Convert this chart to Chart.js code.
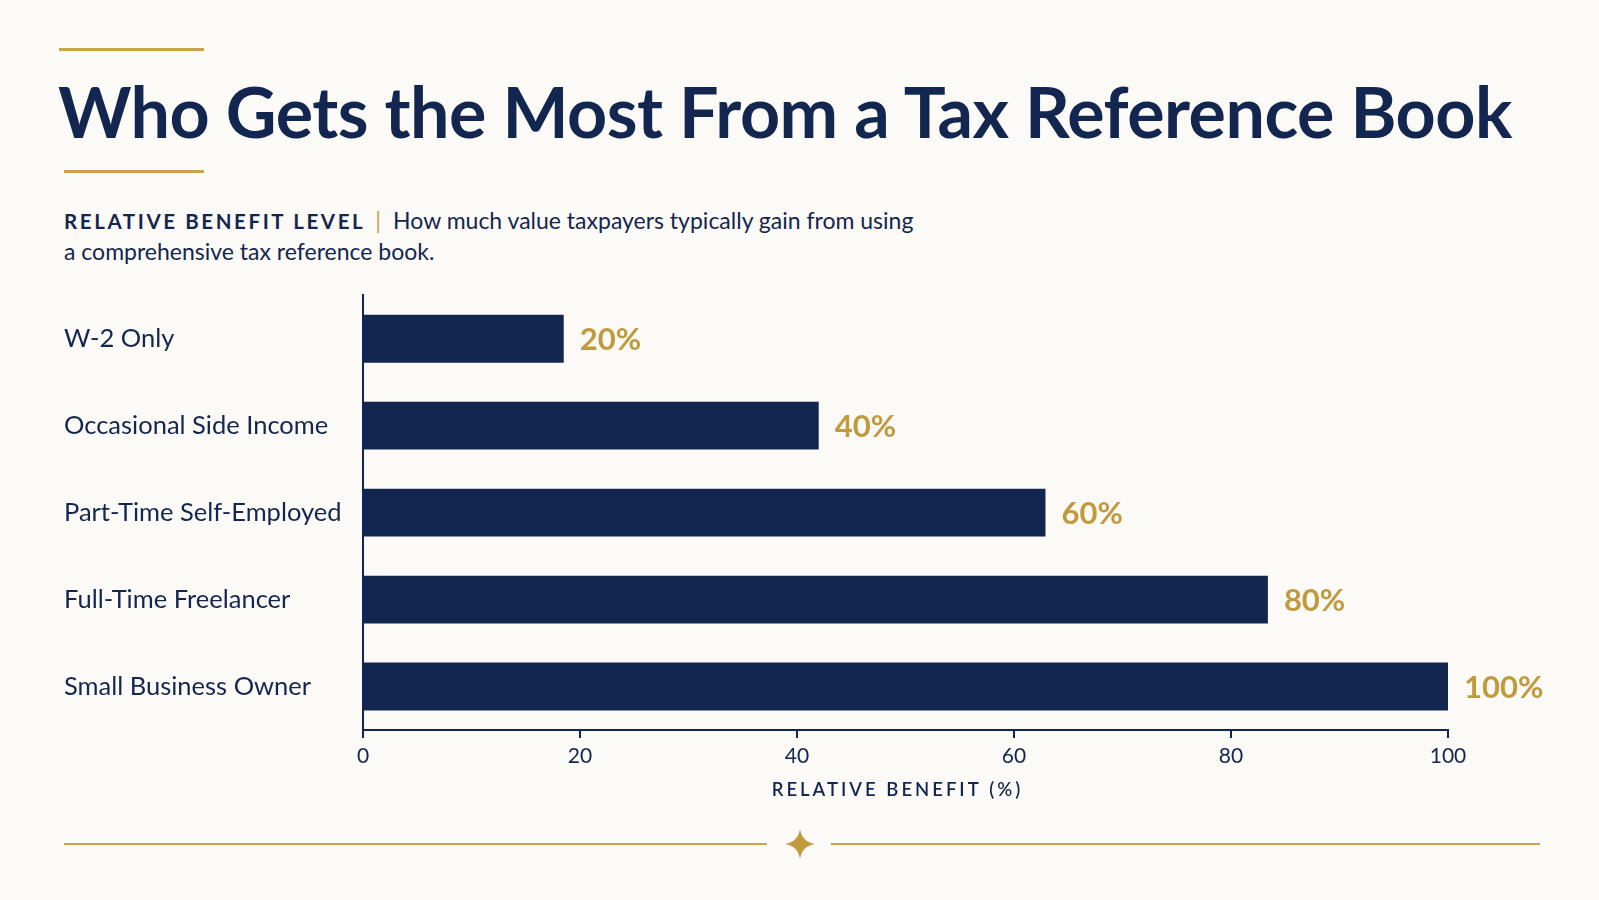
<!DOCTYPE html>
<html>
<head>
<meta charset="utf-8">
<script src="https://cdn.jsdelivr.net/npm/chart.js@4"></script>
<style>
    body {
        margin: 0;
        width: 1599px;
        height: 900px;
        background: #fbfaf7;
        font-family: Lato, sans-serif;
        position: relative;
        overflow: hidden;
        color: #13264f;
    }
    .rule {
        position: absolute;
        height: 3px;
        background: #c9a24a;
    }
    #title {
        position: absolute;
        left: 58px;
        top: 76px;
        margin: 0;
        font-size: 70px;
        line-height: 1;
        font-weight: 700;
        letter-spacing: -0.5px;
        white-space: nowrap;
    }
    #subtitle {
        position: absolute;
        left: 64px;
        top: 205px;
        width: 1000px;
        font-size: 23px;
        line-height: 30px;
    }
    #subtitle b {
        font-size: 20.5px;
        letter-spacing: 2.6px;
        font-weight: 700;
    }
    #subtitle .bar {
        color: #c9a24a;
        margin: 0 12px 0 10px;
    }
    #chartBox {
        position: absolute;
        left: 0;
        top: 280px;
        width: 1599px;
        height: 530px;
    }
    .foot {
        position: absolute;
        top: 843px;
        height: 2px;
        background: #c9a24a;
    }
    #star {
        position: absolute;
        left: 784px;
        top: 828px;
    }
</style>
</head>
<body>
<div class="rule" style="left:59px; top:48px; width:145px;"></div>
<h1 id="title">Who Gets the Most From a Tax Reference Book</h1>
<div class="rule" style="left:64px; top:170px; width:140px;"></div>
<div id="subtitle"><b>RELATIVE BENEFIT LEVEL</b><span class="bar">|</span>How much value taxpayers typically gain from using<br>a comprehensive tax reference book.</div>
<div id="chartBox"><canvas id="chart"></canvas></div>
<div class="foot" style="left:64px; width:703px;"></div>
<svg id="star" width="32" height="32" viewBox="0 0 32 32">
    <path d="M16 1 Q18 14 31 16 Q18 18 16 31 Q14 18 1 16 Q14 14 16 1 Z" fill="#c29a3e"/>
</svg>
<div class="foot" style="left:831px; width:709px;"></div>

<script>
const categories = ['W-2 Only', 'Occasional Side Income', 'Part-Time Self-Employed', 'Full-Time Freelancer', 'Small Business Owner'];
const barValues = [18.5, 42, 62.9, 83.4, 100];
const valueLabels = ['20%', '40%', '60%', '80%', '100%'];
const xTicks = [0, 20, 40, 60, 80, 100];

const navy = '#13264f';
const gold = '#c29a3e';

const valueLabelPlugin = {
    id: 'valueLabels',
    afterDatasetsDraw(chart) {
        const ctx = chart.ctx;
        const meta = chart.getDatasetMeta(0);
        ctx.save();
        ctx.font = '700 31px Lato';
        ctx.fillStyle = gold;
        ctx.textBaseline = 'middle';
        ctx.textAlign = 'left';
        meta.data.forEach(function(bar, i) {
            ctx.fillText(valueLabels[i], bar.x + 16, bar.y + 1);
        });
        ctx.restore();
    },
    afterDraw(chart) {
        // axis title with letter spacing
        const ctx = chart.ctx;
        const x = chart.scales.x;
        ctx.save();
        ctx.font = '600 18.5px Lato';
        ctx.letterSpacing = '3px';
        ctx.fillStyle = navy;
        ctx.textAlign = 'center';
        ctx.textBaseline = 'middle';
        ctx.fillText('RELATIVE BENEFIT (%)', (x.left + x.right) / 2 - 8, 510);
        ctx.restore();
    }
};

const chart = new Chart(document.getElementById('chart'), {
    type: 'bar',
    data: {
        labels: categories,
        datasets: [{
            data: barValues,
            backgroundColor: navy,
            borderWidth: 0,
            categoryPercentage: 1,
            barPercentage: 0.55
        }]
    },
    options: {
        indexAxis: 'y',
        responsive: true,
        maintainAspectRatio: false,
        animation: false,
        layout: {
            padding: {left: 64, right: 151, top: 15, bottom: 0}
        },
        plugins: {
            legend: {display: false},
            tooltip: {enabled: false}
        },
        scales: {
            x: {
                min: 0,
                max: 100,
                afterBuildTicks: function(scale) {
                    scale.ticks = xTicks.map(v => ({value: v}));
                },
                afterFit: function(scale) {
                    scale.height = 80;
                },
                border: {color: navy, width: 2},
                grid: {
                    drawOnChartArea: false,
                    drawTicks: true,
                    tickLength: 8,
                    color: navy,
                    lineWidth: 2
                },
                ticks: {
                    color: navy,
                    font: {family: 'Lato', size: 21},
                    padding: 6
                }
            },
            y: {
                afterFit: function(scale) {
                    scale.width = 299;
                },
                border: {color: navy, width: 2},
                grid: {display: false, drawTicks: false},
                ticks: {
                    crossAlign: 'far',
                    color: navy,
                    font: {family: 'Lato', size: 25.5},
                    padding: 0
                }
            }
        }
    },
    plugins: [valueLabelPlugin]
});
</script>
</body>
</html>
